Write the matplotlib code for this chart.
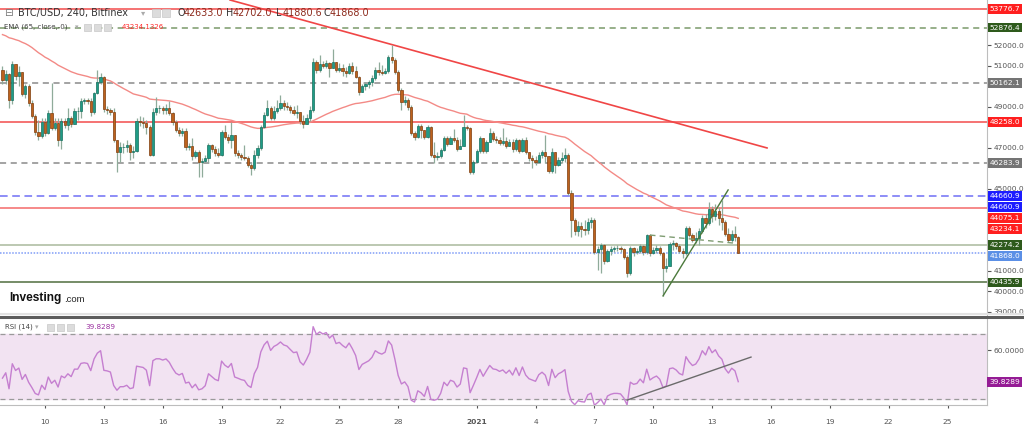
import numpy as np
import pandas as pd
import matplotlib
matplotlib.use("Agg")
import matplotlib.pyplot as plt
from matplotlib.patches import Rectangle
from matplotlib.lines import Line2D
import matplotlib.transforms as mtransforms

# BTC/USD 240 (4h candles), Bitfinex
start = pd.Timestamp("2020-12-07 20:00")
first_open = 50800

closes = [
    50320, 50610, 49340, 51100, 50510, 50710, 49630, 50020, 49190, 48560,
    47780, 47580, 48270, 47730, 48710, 47970, 48220, 47390, 48320, 48120,
    48460, 48170, 48800, 48800, 49290, 49340, 49290, 48750, 49680, 50220,
    50460, 48900, 48850, 48750, 47390, 46800, 47050, 47050, 47140, 46800,
    46850, 48320, 48270, 48220, 48020, 46660, 48750, 48950, 48950, 48850,
    48950, 48710, 48270, 47880, 47730, 47830,
    47050, 47100, 46610, 46800, 46310, 46360, 46510, 47140, 46950, 46750,
    46660, 47780, 47530, 47390, 47630, 46750, 46660, 46560, 46510, 46170,
    46020, 46660, 47000, 48020, 48610, 48950, 48460, 48800, 48950, 49190,
    49050, 49000, 48850, 48710, 48750, 48320, 48170, 48460, 48850, 51190,
    50800, 51100, 51000, 51150, 50900, 51190, 50800, 50900, 50760, 50660,
    51000, 50760, 50460, 49730, 50020, 50120, 50220,
    50410, 50800, 50710, 50660, 50760, 51440, 51290, 50710, 49830, 49240,
    49340, 49000, 47730, 47530, 48070, 47880, 47530, 48020, 46660, 46560,
    46610, 46900, 47490, 47190, 47490, 47390, 46950, 47100, 48020, 47970,
    45830, 46310, 46850, 47490, 46850, 47290, 47730, 47440, 47390, 47240,
    47340, 47100, 47290, 46950, 47390, 46850, 47390, 46800, 46510, 46410,
    46310, 46660, 46800, 46610, 45880, 46800,
    46170, 46410, 46510, 46660, 44800, 43480, 42950, 43190, 43050, 43000,
    43390, 43480, 41920, 42070, 42260, 41480, 41970, 42070, 42120, 42120,
    42070, 41680, 40900, 42120, 41920, 41970, 42220, 41920, 42750, 41870,
    42020, 42120, 41870, 41140, 41240, 42310, 42360, 42220, 41970, 41870,
    43090, 42750, 42510, 42610, 42950, 43580, 43340, 44020, 43680, 43920,
    43580, 43390, 42800, 42510, 42800, 42633, 41868,
]

highs = [
    51000, 50800, 50660, 51240, 50800, 51000, 50510, 50120, 50120, 49340,
    48660, 48360, 48460, 48460, 48850, 50170, 48460, 48460, 48460, 48460,
    48950, 48560, 48950, 49000, 49440, 49440, 49440, 49440, 49730, 50800,
    50660, 50510, 49050, 48950, 48950, 47390, 47290, 47240, 47390, 47240,
    47100, 48460, 48560, 48510, 48360, 48120, 48950, 49490, 49100, 49050,
    49150, 49290, 48750, 48360, 48020, 47970,
    47970, 47240, 47490, 46900, 46900, 46510, 46660, 47240, 47190, 47100,
    47000, 47880, 48120, 47680, 48270, 47630, 46900, 46750, 47140, 46610,
    46270, 46900, 47140, 48120, 48750, 49340, 49050, 49050, 49340, 49580,
    49340, 49240, 49100, 49050, 49100, 48750, 48610, 48660, 49050, 51390,
    51290, 51540, 51240, 51290, 51190, 51830, 51190, 51150, 51100, 50950,
    51150, 51190, 51000, 50510, 50120, 50220, 50320,
    50560, 50950, 51190, 51050, 50900, 51540, 52020, 51390, 50800, 49930,
    49540, 49440, 49100, 47830, 48170, 48170, 47880, 48120, 48070, 47290,
    46800, 47000, 47580, 47580, 47580, 47930, 47530, 47440, 48610, 48120,
    48020, 46410, 46950, 47580, 47390, 47390, 47970, 47830, 47580, 47530,
    47970, 47530, 47440, 47440, 47490, 47440, 47490, 47530, 46800, 46660,
    46610, 46800, 46900, 47630, 46610, 47000,
    46410, 46560, 46800, 47000, 46750, 44950, 43580, 43440, 43390, 43480,
    43580, 43630, 43580, 42220, 42360, 42310, 42070, 42220, 42220, 42260,
    42220, 42120, 41780, 42220, 42170, 42120, 42310, 42260, 42800, 42800,
    42170, 42260, 42220, 41920, 41630, 42410, 42510, 42410, 42310, 42120,
    43190, 43190, 42850, 42900, 43090, 43730, 43780, 44360, 44170, 44270,
    44120, 44460, 43480, 43090, 43000, 43190, 42702,
]

lows = [
    50120, 50120, 48950, 49150, 50320, 50020, 49540, 49440, 49050, 48460,
    47630, 47390, 47490, 47580, 47680, 47880, 47880, 47100, 46950, 47970,
    47880, 48020, 48170, 48360, 48460, 49150, 49150, 48560, 48660, 49630,
    50120, 48750, 48660, 48610, 47290, 45830, 46310, 46750, 46800, 46410,
    46510, 46800, 48070, 47970, 47680, 46610, 46610, 48610, 48710, 48660,
    48660, 48610, 48120, 47780, 47580, 47580,
    46900, 46900, 46410, 46510, 45580, 45580, 46270, 46310, 46800, 46610,
    46560, 46610, 47440, 47240, 47000, 46610, 46510, 46410, 46410, 46070,
    45680, 45920, 46510, 46900, 47970, 48560, 48360, 48360, 48710, 48850,
    48850, 48850, 48710, 48610, 48460, 48170, 47970, 48170, 48320, 48750,
    50660, 50710, 50900, 50900, 50460, 50900, 50710, 50710, 50510, 50460,
    50610, 50610, 50410, 49580, 49730, 49830, 49930,
    50020, 50320, 50560, 50560, 50610, 50660, 51150, 50610, 49730, 48850,
    49100, 48850, 47630, 47390, 47490, 47490, 47440, 47490, 46560, 46270,
    46410, 46510, 46850, 47100, 47190, 47290, 46850, 47000, 47140, 47880,
    45730, 45730, 46270, 46750, 46750, 46750, 47290, 47340, 47240, 47140,
    47140, 47000, 47190, 46800, 46850, 46750, 46800, 46710, 46360, 46020,
    46170, 46310, 46510, 46270, 45780, 45780,
    45780, 46120, 46270, 46310, 44700, 42650, 42750, 42700, 42650, 42750,
    42800, 43090, 41830, 41040, 40900, 41340, 41430, 41780, 41920, 41970,
    41920, 41580, 40700, 40800, 41730, 41830, 41870, 41780, 41830, 41730,
    41830, 41870, 41780, 39780, 40950, 41240, 42020, 42070, 41870, 41630,
    41780, 42650, 42410, 42360, 42260, 42850, 43090, 43240, 43390, 43480,
    43240, 43000, 42700, 42410, 42410, 42460, 41860,
]

ema_seed = 52600          # EMA(65) level just left of the first candle
rsi_seed_gain, rsi_seed_loss = 170.0, 190.0

h_levels = [  # price, colour, style, label bg
    (53776.7, "#f24b4b", "-", "#ff1f1f"),
    (52876.4, "#7a9a6a", (0, (4, 3)), "#2e5a1c"),
    (50162.1, "#8a8a8a", (0, (4, 3)), "#747474"),
    (48258.0, "#f24b4b", "-", "#ff1f1f"),
    (46283.9, "#8a8a8a", (0, (4, 3)), "#747474"),
    (44660.9, "#6f6ff5", (0, (5, 3)), "#1c1cff"),
    (44075.1, "#f46a6a", "-", "#ff1f1f"),
    (42274.2, "#a9b99c", "-", "#2e5a1c"),
    (41868.0, "#7f9cf7", (0, (1, 1)), "#5b8fe6"),
    (40435.9, "#4f6e3f", "-", "#2e5a1c"),
]
extra_labels = [(44660.9, "#1c1cff"), (43234.1, "#ff1f1f")]

red_trend = ([69.6, 233.8], [54220, 47000])
green_trend = ([202, 221.9], [39780, 44950])
dash_trend = ([198, 223.4], [42750, 42360])
rsi_trend = ([191, 228.9], [29.4, 55.7])

tick_dates = ["2020-12-10", "2020-12-13", "2020-12-16", "2020-12-19", "2020-12-22",
              "2020-12-25", "2020-12-28", "2021-01-01", "2021-01-04", "2021-01-07",
              "2021-01-10", "2021-01-13", "2021-01-16", "2021-01-19", "2021-01-22",
              "2021-01-25"]
tick_labels = ["10", "13", "16", "19", "22", "25", "28", "2021", "4", "7",
               "10", "13", "16", "19", "22", "25"]

# ---------------------------------------------------------------
c = np.array(closes, float)
o = np.r_[first_open, c[:-1]]
h = np.maximum(np.array(highs, float), np.maximum(o, c))
l = np.minimum(np.array(lows, float), np.minimum(o, c))
x = np.arange(len(c))

ema = []
e = ema_seed
for v in c:
    e += (v - e) * 2 / 66
    ema.append(e)

rsi = []
ag, al = rsi_seed_gain, rsi_seed_loss
for d in np.diff(np.r_[first_open, c]):
    ag = (ag * 13 + max(d, 0)) / 14
    al = (al * 13 + max(-d, 0)) / 14
    rsi.append(100 - 100 / (1 + ag / al))

W, H = 1024, 429
fig = plt.figure(figsize=(W / 100, H / 100), dpi=100)
plt.rcParams["font.family"] = ["DejaVu Sans"]


def fx(px):
    return px / W


def fy(py):
    return 1 - py / H


ax = fig.add_axes([0, fy(315), fx(987), 315 / H])
ax2 = fig.add_axes([0, fy(405), fx(987), 87 / H], sharex=ax)

ylo, yhi = 38848, 54220
ax.set_xlim(-0.76, 301.07)
ax.set_ylim(ylo, yhi)
ax2.set_ylim(26.4, 79.6)
ppx = (yhi - ylo) / 315   # price per pixel

# candles
up = c >= o
ax.vlines(x, l, h, color="#8fab9a", lw=0.9, zorder=3)
ax.bar(x[up], (c - o)[up], bottom=o[up], width=0.68, color="#1f9c86",
       edgecolor="#17705f", lw=0.5, zorder=4)
ax.bar(x[~up], (c - o)[~up], bottom=o[~up], width=0.68, color="#bd621d",
       edgecolor="#7f3e0e", lw=0.5, zorder=4)
ax.plot(x, ema, color="#f38a86", lw=1.0, zorder=2)

for price, col, ls, _ in h_levels:
    ax.axhline(price, color=col, ls=ls, lw=1.1, zorder=1)
ax.plot(*red_trend, color="#f04646", lw=1.2, zorder=2)
ax.plot(*green_trend, color="#4c7a3c", lw=1.0, zorder=5)
ax.plot(*dash_trend, color="#7f9c72", lw=1.0, ls=(0, (4, 3)), zorder=5)

# right price labels, stacked so they do not overlap
labels = sorted([(p, bg) for p, _, _, bg in h_levels] + extra_labels,
                key=lambda t: -t[0])
placed = []
prev = None
for p, bg in labels:
    yv = p if prev is None else min(p, prev - 11 * ppx)
    prev = yv
    placed.append((p, yv, bg))

# price ticks: hide the ones covered by a label
ticks = [t for t in range(39000, 54001, 1000)
         if all(abs(t - yv) > 6.5 * ppx for _, yv, _ in placed)]
ax.yaxis.tick_right()
ax.set_yticks(ticks)
ax.yaxis.set_major_formatter(matplotlib.ticker.FormatStrFormatter("%.1f"))
ax.tick_params(axis="y", labelsize=5.4, colors="#555555", length=3, pad=1.5,
               direction="out")
ax.tick_params(axis="x", bottom=False, labelbottom=False)
for s in ["top", "left", "bottom"]:
    ax.spines[s].set_visible(False)
ax.spines["right"].set_color("#bdbdbd")

trans = mtransforms.blended_transform_factory(ax.transAxes, ax.transData)
for p, yv, bg in placed:
    ax.text(1.0025, yv, f"{p:.1f}", transform=trans, fontsize=5.4, color="white",
            va="center", ha="left", clip_on=False, zorder=10,
            bbox=dict(boxstyle="square,pad=0.25", fc=bg, ec="none"))

# RSI panel
ax2.axhspan(30, 70, color="#f2e3f2", zorder=0)
ax2.axhline(70, color="#9a9a9a", ls=(0, (4, 3)), lw=0.9)
ax2.axhline(30, color="#9a9a9a", ls=(0, (4, 3)), lw=0.9)
ax2.plot(x, rsi, color="#c57fd0", lw=1.0, zorder=3)
ax2.plot(*rsi_trend, color="#6b6b6b", lw=1.0, zorder=4)
ax2.yaxis.tick_right()
ax2.set_yticks([60])
ax2.yaxis.set_major_formatter(matplotlib.ticker.FormatStrFormatter("%.4f"))
ax2.tick_params(axis="y", labelsize=5.4, colors="#555555", length=3, pad=1.5)
trans2 = mtransforms.blended_transform_factory(ax2.transAxes, ax2.transData)
ax2.text(1.0025, rsi[-1], "39.8289", transform=trans2, fontsize=5.4,
         color="white", va="center", ha="left", clip_on=False,
         bbox=dict(boxstyle="square,pad=0.28", fc="#951c95", ec="none"))

tick_x = (pd.to_datetime(tick_dates) - start) / pd.Timedelta("4h")
ax2.set_xticks(tick_x)
ax2.set_xticklabels(tick_labels)
ax2.tick_params(axis="x", labelsize=5.4, colors="#555555", length=2, pad=8)
for t in ax2.get_xticklabels():
    if t.get_text() == "2021":
        t.set_fontweight("bold")
for s in ["top", "left"]:
    ax2.spines[s].set_visible(False)
ax2.spines["right"].set_color("#bdbdbd")
ax2.spines["bottom"].set_color("#bdbdbd")

# panel separator
fig.add_artist(Line2D([0, 1], [fy(316.5)] * 2, color="#5c5c5c", lw=2.2))
fig.add_artist(Line2D([0, 1], [fy(313.5)] * 2, color="#e2e2e2", lw=1.5))


def icon(px, py, size=8):
    fig.add_artist(Rectangle((fx(px), fy(py + size / 2)), fx(size), size / H,
                             transform=fig.transFigure, fc="#dcdcdc",
                             ec="#c8c8c8", lw=0.5))


# header texts
fig.text(fx(4), fy(13), "\u229f", fontsize=7.5, color="#777777", va="center")
fig.text(fx(18), fy(13), "BTC/USD, 240, Bitfinex", fontsize=6.9, color="#333333",
         va="center")
fig.text(fx(141), fy(13), "\u25be", fontsize=6, color="#aaaaaa", va="center")
icon(152, 13, 8)
icon(162, 13, 8)
ohlc = [("O", "42633.0", 177), ("H", "42702.0", 226), ("L", "41880.6", 276),
        ("C", "41868.0", 323)]
for k, v, px in ohlc:
    fig.text(fx(px), fy(13), k, fontsize=6.9, color="#333333", va="center")
    fig.text(fx(px + 7), fy(13), v, fontsize=6.9, color="#8c2a1c", va="center")

fig.text(fx(4), fy(27), "EMA (65, close,-0)", fontsize=5, color="#444444",
         va="center")
fig.text(fx(75), fy(27), "\u25be", fontsize=5, color="#aaaaaa", va="center")
icon(84, 27, 7)
icon(94, 27, 7)
icon(104, 27, 7)
fig.text(fx(122), fy(27), "43234.1326", fontsize=5, color="#ff2a2a", va="center")

fig.text(fx(5), fy(327), "RSI (14)", fontsize=5, color="#444444", va="center")
fig.text(fx(35), fy(327), "\u25be", fontsize=5, color="#aaaaaa", va="center")
icon(47, 327, 7)
icon(57, 327, 7)
icon(67, 327, 7)
fig.text(fx(85), fy(327), "39.8289", fontsize=5.2, color="#9b30a0", va="center")

fig.text(fx(9), fy(298), "Investing", fontsize=8.6, fontweight="bold",
         color="#111111", va="center", family="Liberation Sans")
fig.text(fx(64), fy(299), ".com", fontsize=6.8, color="#222222", va="center",
         family="Liberation Sans")

fig.savefig("out.png", dpi=100)
